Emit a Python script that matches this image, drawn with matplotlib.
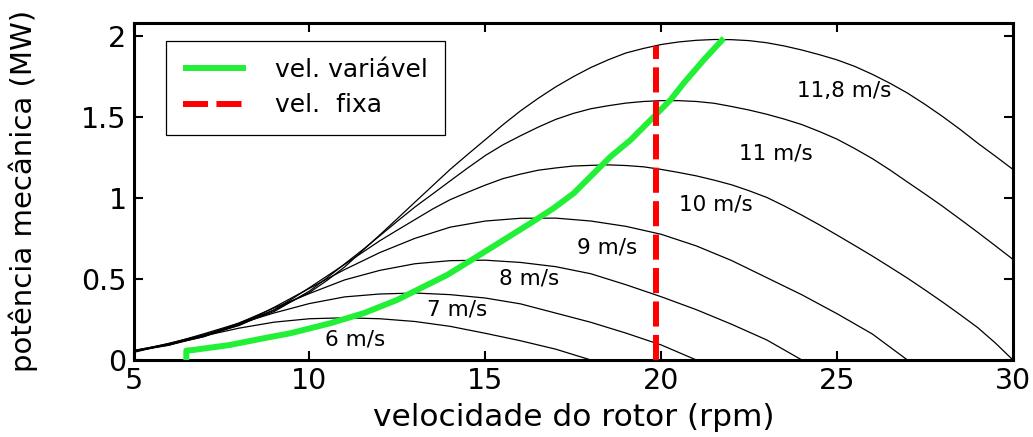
import numpy as np
import matplotlib.pyplot as plt

# power curves (MW) vs rotor speed (rpm)
rpm_6 = list(range(5, 19))
p_6 = [0.051, 0.097, 0.149, 0.197, 0.234, 0.255, 0.261, 0.255, 0.238, 0.208,
       0.165, 0.119, 0.067, 0.0]
rpm_7 = list(range(5, 22))
p_7 = [0.054, 0.091, 0.153, 0.225, 0.291, 0.349, 0.390, 0.408, 0.414, 0.404,
       0.383, 0.347, 0.290, 0.233, 0.166, 0.093, 0.0]
rpm_8 = list(range(5, 25))
p_8 = [0.057, 0.092, 0.145, 0.229, 0.322, 0.411, 0.495, 0.554, 0.595, 0.614,
       0.617, 0.603, 0.577, 0.533, 0.465, 0.391, 0.311, 0.221, 0.124, 0.0]
rpm_9 = list(range(5, 28))
p_9 = [0.059, 0.097, 0.144, 0.217, 0.326, 0.443, 0.559, 0.664, 0.752, 0.821,
       0.859, 0.876, 0.877, 0.859, 0.826, 0.777, 0.705, 0.615, 0.509, 0.403,
       0.286, 0.161, 0.0]
rpm_10 = [5, 6, 7, 8, 9, 9.5, 10, 10.5, 11, 11.5, 12, 12.5, 13, 13.5, 14, 14.5,
          15, 15.5, 16, 16.5, 17, 17.5, 18, 18.5, 19, 19.5, 20, 20.5, 21, 21.5,
          22, 22.5, 23, 23.5, 24, 24.5, 25, 25.5, 26, 26.5, 27, 27.5, 28, 28.5,
          29, 29.5, 30]
p_10 = [0.058, 0.101, 0.151, 0.213, 0.310, 0.377, 0.447, 0.519, 0.591, 0.664,
        0.737, 0.803, 0.868, 0.933, 0.991, 1.037, 1.081, 1.121, 1.149, 1.173,
        1.187, 1.199, 1.203, 1.206, 1.202, 1.194, 1.178, 1.159, 1.138, 1.112,
        1.083, 1.046, 1.005, 0.952, 0.895, 0.835, 0.772, 0.708, 0.643, 0.575,
        0.506, 0.433, 0.358, 0.280, 0.200, 0.105, 0.0]
rpm_11 = [5, 6, 7, 8, 9, 10, 10.5, 11, 11.5, 12, 12.5, 13, 13.5, 14, 14.5, 15,
          15.5, 16, 16.5, 17, 17.5, 18, 18.5, 19, 19.5, 20, 20.5, 21, 21.5, 22,
          22.5, 23, 23.5, 24, 24.5, 25, 25.5, 26, 26.5, 27, 27.5, 28, 28.5, 29,
          29.5, 30]
p_11 = [0.051, 0.103, 0.156, 0.218, 0.300, 0.426, 0.508, 0.594, 0.679, 0.768,
        0.858, 0.946, 1.026, 1.107, 1.187, 1.264, 1.330, 1.386, 1.439, 1.487,
        1.524, 1.553, 1.572, 1.588, 1.598, 1.603, 1.603, 1.598, 1.587, 1.567,
        1.545, 1.519, 1.489, 1.455, 1.412, 1.365, 1.307, 1.245, 1.175, 1.100,
        1.026, 0.950, 0.870, 0.789, 0.706, 0.622]
rpm_118 = [5, 6, 7, 8, 9, 10, 10.5, 11, 11.5, 12, 12.5, 13, 13.5, 14, 14.5, 15,
           15.5, 16, 16.5, 17, 17.5, 18, 18.5, 19, 19.5, 20, 20.5, 21, 21.5, 22,
           22.5, 23, 23.5, 24, 24.5, 25, 25.5, 26, 26.5, 27, 27.5, 28, 28.5, 29,
           29.5, 30]
p_118 = [0.047, 0.099, 0.162, 0.228, 0.309, 0.417, 0.492, 0.575, 0.674, 0.773,
         0.874, 0.976, 1.077, 1.178, 1.271, 1.362, 1.454, 1.540, 1.617, 1.688,
         1.751, 1.808, 1.856, 1.898, 1.926, 1.950, 1.966, 1.976, 1.981, 1.980,
         1.974, 1.961, 1.941, 1.916, 1.887, 1.855, 1.815, 1.766, 1.711, 1.650,
         1.580, 1.505, 1.425, 1.340, 1.260, 1.178]

# variable speed trajectory
vv_rpm = [6.5, 6.5, 6.7, 7.74, 8.69, 9.45, 10.59, 11.54, 12.49, 13.06, 13.91,
          14.57, 15.52, 16.28, 16.94, 17.51, 18.18, 18.56, 19.13, 19.7, 20.26,
          20.64, 21.21, 21.78]
vv_p = [0.0, 0.058, 0.062, 0.093, 0.134, 0.165, 0.227, 0.289, 0.371, 0.433,
        0.525, 0.613, 0.742, 0.845, 0.938, 1.03, 1.175, 1.257, 1.36, 1.484,
        1.607, 1.711, 1.855, 1.989]

# fixed speed
vf_rpm = [19.84, 19.84]
vf_p = [0.0, 1.94]

labels = ['6 m/s', '7 m/s', '8 m/s', '9 m/s', '10 m/s', '11 m/s', '11,8 m/s']
label_x = [10.45, 13.34, 15.38, 17.61, 20.5, 22.21, 23.85]
label_y = [0.087, 0.272, 0.464, 0.66, 0.927, 1.237, 1.628]

xtick_vals = [5, 10, 15, 20, 25, 30]
ytick_vals = [0, 0.5, 1, 1.5, 2]
ytick_labels = ['0', '0.5', '1', '1.5', '2']


def main():
    fig = plt.figure(figsize=(10.33, 4.37), dpi=100)
    ax = fig.add_axes([0.1293, 0.1762, 0.8513, 0.7719])

    curves = [(rpm_6, p_6), (rpm_7, p_7), (rpm_8, p_8), (rpm_9, p_9),
              (rpm_10, p_10), (rpm_11, p_11), (rpm_118, p_118)]
    for x, y in curves:
        ax.plot(x, y, color='black', linewidth=0.9)

    ax.plot(vv_rpm, vv_p, color='#22f036', linewidth=4.3,
            solid_capstyle='butt', label='vel. variável', zorder=3)
    ax.plot(vf_rpm, vf_p, color='#ff0000', linewidth=4.3,
            dashes=(4.2, 1.4), label='vel.  fixa', zorder=4)

    for t, x, y in zip(labels, label_x, label_y):
        ax.text(x, y, t, fontsize=15.5, ha='left', va='baseline')

    ax.set_xlim(5, 30)
    ax.set_ylim(0, 2.085)
    ax.set_xticks(xtick_vals)
    ax.set_yticks(ytick_vals)
    ax.set_yticklabels(ytick_labels)
    ax.tick_params(direction='in', length=6.5, width=1.5, top=True,
                   right=True, labelsize=20.5, pad=5)
    for s in ax.spines.values():
        s.set_linewidth(2.2)

    ax.set_xlabel('velocidade do rotor (rpm)', fontsize=22.5, labelpad=6)
    ax.set_ylabel('potência mecânica (MW)', fontsize=21, labelpad=31)

    leg = ax.legend(loc='upper left', bbox_to_anchor=(0.0368, 0.947),
                    borderaxespad=0, fontsize=18, fancybox=False,
                    edgecolor='black', framealpha=1, handlelength=2.5,
                    handletextpad=1.15, borderpad=0.7, labelspacing=0.45)
    leg.get_frame().set_linewidth(0.9)

    fig.savefig('out.png', dpi=100)


if __name__ == "__main__":
    main()
